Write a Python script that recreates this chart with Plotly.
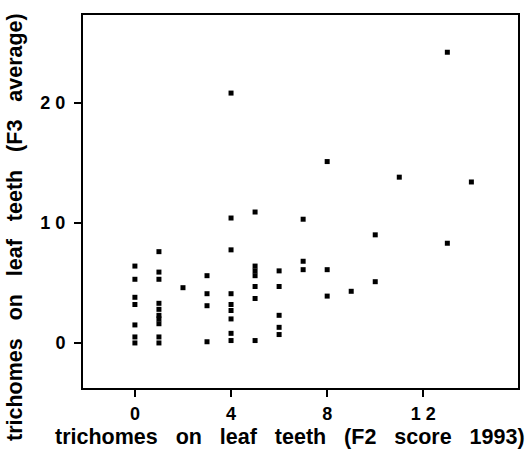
import plotly.graph_objects as go

# F2 score 1993 (x) and F3 average (y), grouped by x value
x_vals = [0]*7 + [1]*10 + [2] + [3]*4 + [4]*9 + [5]*7 + [6]*5 + [7]*3 + [8]*3 + [9] + [10]*2 + [11] + [13]*2 + [14]
y_vals = [6.4, 5.3, 3.8, 3.2, 1.5, 0.5, 0.0,
          7.6, 5.9, 5.3, 3.3, 2.8, 2.3, 2.0, 1.6, 0.5, 0.0,
          4.6,
          5.6, 4.1, 3.1, 0.1,
          20.8, 10.4, 7.75, 4.1, 3.2, 2.7, 2.0, 0.8, 0.2,
          10.9, 6.4, 6.0, 5.6, 4.7, 3.7, 0.2,
          6.0, 4.7, 2.3, 1.3, 0.7,
          10.3, 6.8, 6.1,
          15.1, 6.1, 3.9,
          4.3,
          9.0, 5.1,
          13.8,
          24.2, 8.3,
          13.4]

x_ticks = [0, 4, 8, 12]
x_tick_labels = ["0", "4", "8", "1 2"]
y_ticks = [0, 10, 20]
y_tick_labels = ["0", "1 0", "2 0"]

sp = "\u00a0\u00a0\u00a0"
x_title = sp.join(["trichomes", "on", "leaf", "teeth", "(F2", "score", "1993)"])
y_title = sp.join(["trichomes", "on", "leaf", "teeth", "(F3", "average)"])

font_family = "Liberation Sans, Arial, sans-serif"
title_size = 21.5

W, H = 526, 455
ML, MR, MT, MB = 83, 8, 15, 67

fig = go.Figure(go.Scatter(
    x=x_vals, y=y_vals, mode="markers",
    marker=dict(symbol="square", size=5, color="black", line=dict(width=0)),
    hoverinfo="x+y",
))

fig.update_layout(
    width=W, height=H,
    margin=dict(l=ML, r=MR, t=MT, b=MB, autoexpand=False),
    paper_bgcolor="white", plot_bgcolor="white",
    showlegend=False,
    font=dict(family=font_family, size=18, color="black"),
)
fig.update_xaxes(
    range=[-2.16, 15.94], tickvals=x_ticks, ticktext=x_tick_labels,
    ticks="outside", ticklen=7, tickwidth=1.5, tickcolor="black",
    showline=True, linecolor="black", linewidth=2, mirror=True,
    showgrid=False, zeroline=False, automargin=False,
    tickfont=dict(size=18, family=font_family, weight="bold"),
    ticklabelstandoff=1,
)
fig.update_yaxes(
    range=[-3.75, 27.3], tickvals=y_ticks, ticktext=y_tick_labels,
    ticks="outside", ticklen=7, tickwidth=1.5, tickcolor="black",
    showline=True, linecolor="black", linewidth=2, mirror=True,
    showgrid=False, zeroline=False, automargin=False,
    tickfont=dict(size=18, family=font_family, weight="bold"),
    ticklabelstandoff=5,
)

plot_w = W - ML - MR
plot_h = H - MT - MB
# axis titles placed as annotations (positions in figure px converted to paper)
xt_cx, xt_cy = 290, 437
yt_cx, yt_cy = 15, 227
fig.add_annotation(
    text=x_title, xref="paper", yref="paper",
    x=(xt_cx - ML) / plot_w, y=(H - MB - xt_cy) / plot_h,
    xanchor="center", yanchor="middle", showarrow=False,
    font=dict(size=title_size, family=font_family, weight="bold"),
)
fig.add_annotation(
    text=y_title, xref="paper", yref="paper", textangle=-90,
    x=(yt_cx - ML) / plot_w, y=(H - MB - yt_cy) / plot_h,
    xanchor="center", yanchor="middle", showarrow=False,
    font=dict(size=title_size, family=font_family, weight="bold"),
)

# remove the browser's default 8px body margin so the figure fills the window
fig.write_html("out.html", config={"displayModeBar": False},
               post_script="document.body.style.margin='0';")
